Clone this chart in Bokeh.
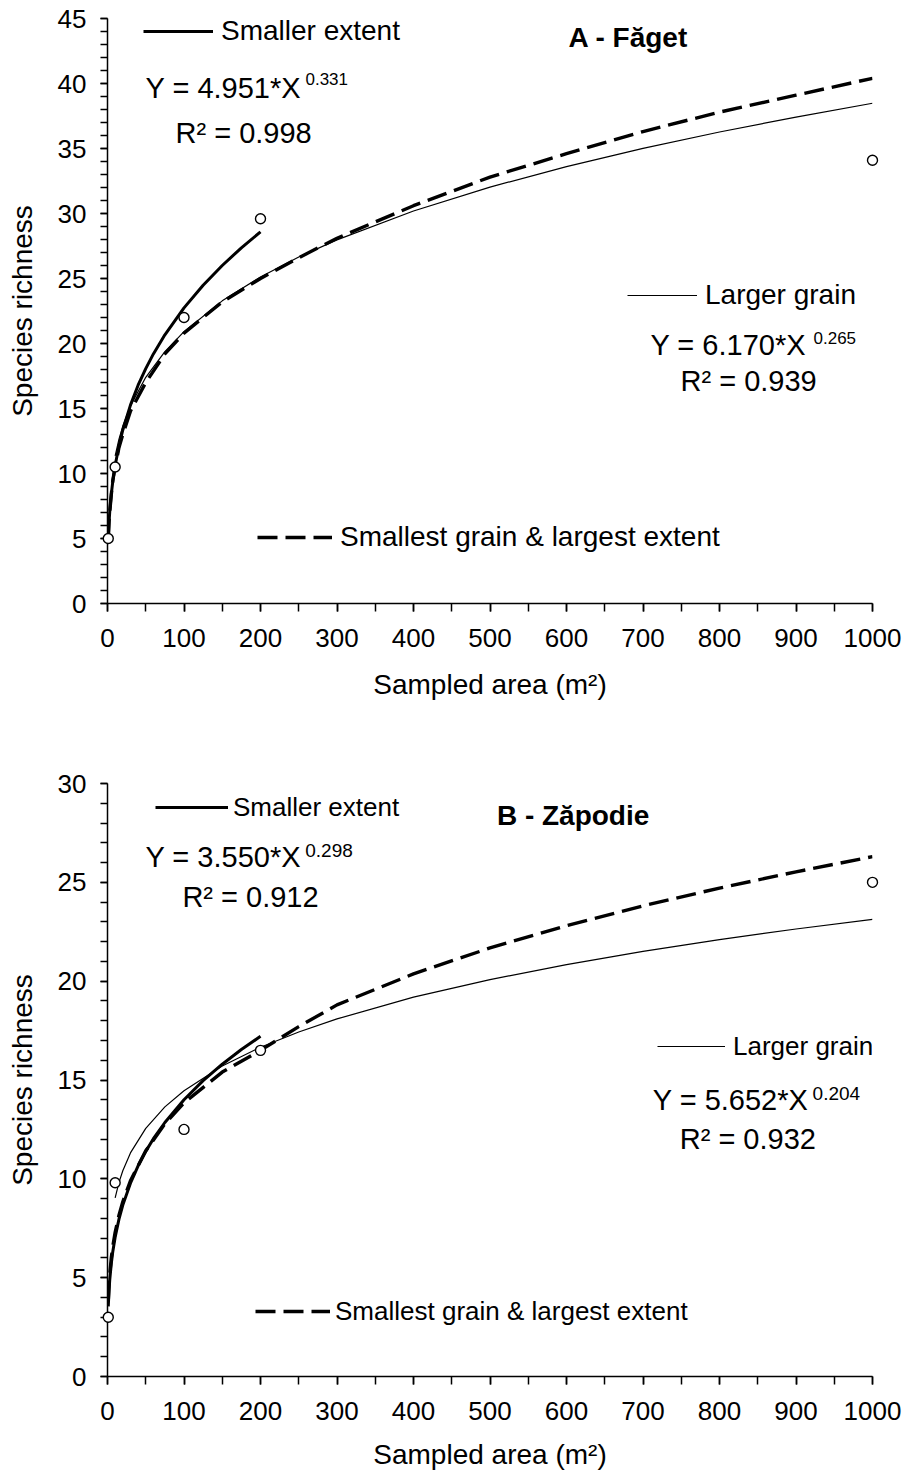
from bokeh.plotting import figure
from bokeh.models import Range1d, SingleIntervalTicker, Label, Legend, LegendItem
from bokeh.layouts import column
from bokeh.embed import file_html
from bokeh.resources import INLINE

FONT = "Liberation Sans"

# ---------------- Panel A (Făget) ----------------
a_ext_x = [1, 2, 3, 5, 7, 10, 15, 20, 30, 40, 50, 60, 75, 100, 125, 150, 175, 200]
a_ext_y = [4.95, 6.23, 7.12, 8.43, 9.43, 10.61, 12.13, 13.35, 15.26, 16.79, 18.07, 19.20,
           20.67, 22.74, 24.48, 26.00, 27.36, 28.59]
a_grain_x = [10, 15, 20, 30, 50, 75, 100, 150, 200, 250, 300, 400, 500, 600, 700, 800, 900, 1000]
a_grain_y = [11.36, 12.65, 13.65, 15.20, 17.40, 19.37, 20.91, 23.28, 25.12, 26.65, 27.97,
             30.19, 32.03, 33.61, 35.01, 36.27, 37.42, 38.48]
a_small_x = [1, 2, 3, 5, 7, 10, 15, 20, 30, 50, 75, 100, 150, 200, 250, 300, 400, 500,
             600, 700, 800, 900, 1000]
a_small_y = [5.0, 6.3, 7.1, 8.4, 9.5, 10.5, 12.0, 13.0, 14.8, 17.0, 19.2, 20.8, 23.2,
             25.0, 26.6, 28.1, 30.6, 32.8, 34.6, 36.3, 37.8, 39.1, 40.4]
a_obs_x = [1, 10, 100, 200, 1000]
a_obs_y = [5.0, 10.5, 22.0, 29.6, 34.1]

# ---------------- Panel B (Zăpodie) ----------------
b_ext_x = [1, 2, 3, 5, 7, 10, 15, 20, 30, 40, 50, 60, 75, 100, 125, 150, 175, 200]
b_ext_y = [3.55, 4.36, 4.92, 5.73, 6.34, 7.05, 7.96, 8.67, 9.78, 10.66, 11.39, 12.03,
           12.85, 14.00, 14.97, 15.80, 16.54, 17.21]
b_grain_x = [10, 15, 20, 30, 50, 75, 100, 150, 200, 250, 300, 400, 500, 600, 700, 800, 900, 1000]
b_grain_y = [9.04, 9.82, 10.41, 11.31, 12.55, 13.64, 14.46, 15.71, 16.66, 17.43, 18.09,
             19.19, 20.08, 20.84, 21.51, 22.10, 22.64, 23.13]
b_small_x = [1, 2, 3, 5, 7, 10, 15, 20, 30, 50, 75, 100, 150, 200, 250, 300, 400, 500,
             600, 700, 800, 900, 1000]
b_small_y = [3.84, 4.66, 5.21, 6.01, 6.60, 7.29, 8.16, 8.84, 9.90, 11.42, 12.78, 13.85,
             15.40, 16.50, 17.70, 18.80, 20.37, 21.68, 22.81, 23.81, 24.71, 25.53, 26.3]
b_obs_x = [1, 10, 100, 200, 1000]
b_obs_y = [3.0, 9.8, 12.5, 16.5, 25.0]

x_label = "Sampled area (m²)"
y_label = "Species richness"


def style_axes(p, xlab_standoff):
    for ax in (p.xaxis[0], p.yaxis[0]):
        ax.axis_line_color = "black"
        ax.axis_line_width = 1.5
        ax.major_tick_line_color = "black"
        ax.minor_tick_line_color = "black"
        ax.major_tick_line_width = 1.5
        ax.minor_tick_line_width = 1.5
        ax.major_tick_in = 0
        ax.minor_tick_in = 0
        ax.major_label_text_font = FONT
        ax.major_label_text_font_size = "26px"
        ax.major_label_text_color = "black"
        ax.axis_label_text_font = FONT
        ax.axis_label_text_font_size = "28px"
        ax.axis_label_text_font_style = "normal"
        ax.axis_label_text_color = "black"
    p.xaxis.major_tick_out = 8
    p.xaxis.minor_tick_out = 8
    p.yaxis.major_tick_out = 7
    p.yaxis.minor_tick_out = 7
    p.xaxis.major_label_standoff = 17
    p.yaxis.major_label_standoff = 14
    p.xaxis.axis_label_standoff = xlab_standoff
    p.yaxis.axis_label_standoff = 17
    p.xaxis.ticker = SingleIntervalTicker(interval=100, num_minor_ticks=2)
    p.yaxis.ticker = SingleIntervalTicker(interval=5, num_minor_ticks=5)
    p.xgrid.visible = False
    p.ygrid.visible = False
    p.outline_line_color = None


def add_legend(p, renderer, text, loc, size, standoff, gw):
    leg = Legend(items=[LegendItem(label=text, renderers=[renderer])],
                 location=loc, glyph_width=gw, glyph_height=32, label_height=32,
                 label_standoff=standoff, padding=0, margin=0, spacing=0,
                 border_line_color=None, background_fill_alpha=0,
                 label_text_font=FONT, label_text_font_size=size,
                 label_text_color="black")
    p.add_layout(leg)


def add_text(p, x, y, text, size, bold=False):
    p.add_layout(Label(x=x, y=y, text=text, text_font=FONT, text_font_size=size,
                       text_font_style="bold" if bold else "normal",
                       text_color="black", text_baseline="alphabetic",
                       text_align="left"))


def panel(ymax, ext, grain, small, obs, height, top, bottom, xlab_standoff):
    p = figure(width=907, height=height, output_backend="svg", toolbar_location=None,
               x_range=Range1d(0, 1000), y_range=Range1d(0, ymax),
               min_border_left=107, min_border_right=35,
               min_border_top=top, min_border_bottom=bottom,
               x_axis_label=x_label, y_axis_label=y_label,
               background_fill_color="white", border_fill_color="white")
    style_axes(p, xlab_standoff)
    r_small = p.line(small[0], small[1], line_color="black", line_width=3.4,
                     line_dash="20 8")
    r_grain = p.line(grain[0], grain[1], line_color="black", line_width=1.2)
    r_ext = p.line(ext[0], ext[1], line_color="black", line_width=3)
    p.scatter(obs[0], obs[1], marker="circle", size=10, fill_color="white",
              line_color="black", line_width=1.4, level="overlay")
    return p, r_ext, r_grain, r_small


# ---- Panel A ----
pA, rA_ext, rA_grain, rA_small = panel(
    45, (a_ext_x, a_ext_y), (a_grain_x, a_grain_y), (a_small_x, a_small_y),
    (a_obs_x, a_obs_y), 720, 18, 117, 19)
add_legend(pA, rA_ext, "Smaller extent", (36, 556), "28px", 8, 70)
add_legend(pA, rA_grain, "Larger grain", (520, 292), "28px", 8, 70)
add_legend(pA, rA_small, "Smallest grain & largest extent", (150, 50), "28px", 8, 75)
add_text(pA, 49.7, 39.62, "Y = 4.951*X", "29px")
add_text(pA, 258.8, 40.31, "0.331", "17px")
add_text(pA, 88.9, 36.23, "R² = 0.998", "29px")
add_text(pA, 602.6, 43.54, "A -  Făget", "28px", bold=True)
add_text(pA, 709.8, 19.85, "Y = 6.170*X", "29px")
add_text(pA, 922.9, 20.46, "0.265", "17px")
add_text(pA, 749.0, 17.15, "R² = 0.939", "29px")

# ---- Panel B ----
pB, rB_ext, rB_grain, rB_small = panel(
    30, (b_ext_x, b_ext_y), (b_grain_x, b_grain_y), (b_small_x, b_small_y),
    (b_obs_x, b_obs_y), 752, 63, 95, 16)
add_legend(pB, rB_ext, "Smaller extent", (48, 553), "26px", 5, 73)
add_legend(pB, rB_grain, "Larger grain", (550, 314), "26px", 8, 68)
add_legend(pB, rB_small, "Smallest grain & largest extent", (148, 49), "26px", 5, 75)
add_text(pB, 49.6, 26.26, "Y = 3.550*X", "29px")
add_text(pB, 258.5, 26.62, "0.298", "19px")
add_text(pB, 97.9, 24.24, "R² = 0.912", "29px")
add_text(pB, 509.0, 28.38, "B -  Zăpodie", "28px", bold=True)
add_text(pB, 712.8, 13.99, "Y = 5.652*X", "29px")
add_text(pB, 921.7, 14.34, "0.204", "19px")
add_text(pB, 748.0, 12.02, "R² = 0.932", "29px")

layout = column(pA, pB, spacing=0)
open("out.html", "w").write(file_html(layout, INLINE))
